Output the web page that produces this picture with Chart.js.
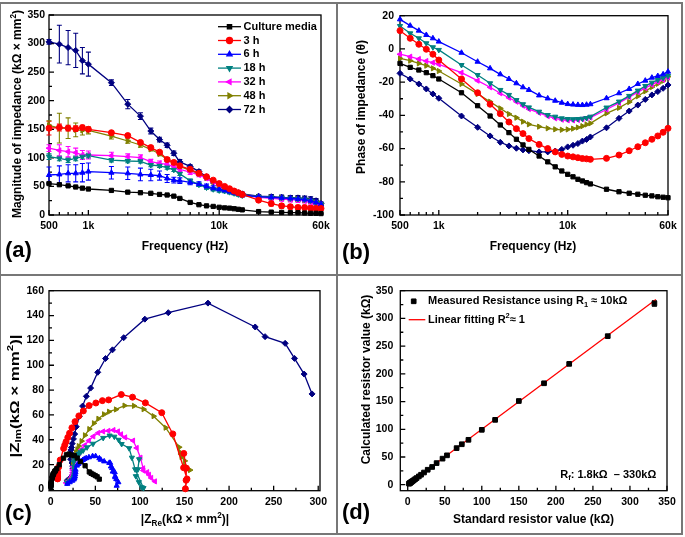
<!DOCTYPE html>
<html>
<head>
<meta charset="utf-8">
<script src="https://cdn.jsdelivr.net/npm/chart.js@4.4.1/dist/chart.umd.min.js"></script>
<style>
html,body{margin:0;padding:0;background:#fff;}
#fig{position:relative;width:685px;height:537px;overflow:hidden;background:#fff;}
#fig canvas{position:absolute;}
.ln{position:absolute;background:#777;}
</style>
</head>
<body>
<div id="fig">
<canvas id="ca" width="337" height="275" style="left:0;top:0"></canvas>
<canvas id="cb" width="348" height="275" style="left:337px;top:0"></canvas>
<canvas id="cc" width="337" height="262" style="left:0;top:275px"></canvas>
<canvas id="cd" width="348" height="262" style="left:337px;top:275px"></canvas>
<div class="ln" style="left:0;top:2px;width:683px;height:2px"></div>
<div class="ln" style="left:0;top:533px;width:683px;height:2px"></div>
<div class="ln" style="left:0;top:2px;width:1px;height:533px"></div>
<div class="ln" style="left:681px;top:2px;width:2px;height:533px"></div>
<div class="ln" style="left:336px;top:2px;width:2px;height:533px"></div>
<div class="ln" style="left:0;top:274px;width:683px;height:2px"></div>
</div>
<script>
/* ---------- data ---------- */
var freq = [500,600,700,800,900,1000,1500,2000,2500,3000,3500,4000,4500,5000,6000,7000,8000,9000,10000,11000,12000,13000,14000,15000,20000,25000,30000,35000,40000,45000,50000,55000,60000];

// (a) magnitude of impedance
var magCM  = [55,53,51,49,47,45.5,43,40,39,38,36,35,33,29,22,18,16,15,13.5,12.5,12,11,10,9,6,5,4.5,4,4,3.5,3,3,2.5];
var mag3h  = [152,153,152,151,153,150,144,139,127,118,110,97,92,86,80,73,67,61,55,50,46,42,39,36,26,20,16,14.5,13,13,12,11.5,11.5];
var mag6h  = [70,71,73,73,74,76,74,73,71,70,69,64,61,60,57,54,50,47,45,43,41,39,37,35,32,31,30,29,28,27,25,22,19];
var mag18h = [102,99,96,99,102,104,96,94.5,94,87.5,86,83,79,72,60,53,48,45,43,42,40,38,36,34,32,31,30,29,28,27,25,22,19];
var mag32h = [117,113,110.8,109,105,105,103.8,102,100.3,93.3,90.4,88.6,85,80,75,70,64,58,52,47,43,40,37,35,31,29,28,27,26,25,23,21,18];
var mag48h = [157,152,152,149,148,148,138,129.5,122.5,115,106.8,97.4,90.4,85,78,72,65,58,52,47,44,41,38,36,32,31,30,29,28,27,25,22,19];
var mag72h = [303,299,293,288,270,264,231.5,194,173,147,132,122,108,93,85,76,67,58,52,48,44,41,39,37,33,32,31,30,30,29,28,25,20];

var errCM  = [1,1,1,1,1,1,1,1,1,1,1,1,1,1,1,1,1,1,1,1,1,1,1,1,1,1,1,1,1,1,1,1,1];
var err3h  = [12,6,5,5,4,4,3,3,3,3,3,3,3,3,3,3,3,3,3,3,3,3,3,3,3,4,4,4,4,4,4,4,3];
var err6h  = [14,15,15,15,16,15,11,11,11,10,8,7,5,5,4,4,4,4,3,3,3,3,3,3,4,4,4,4,4,4,4,4,3];
var err18h = [5,4,4,4,4,4,3,3,3,3,3,3,3,3,3,3,3,3,3,3,3,3,3,3,3,4,4,4,4,4,4,4,3];
var err32h = [6,10,9,8,8,7,6,5,5,4,4,4,4,4,4,3,3,3,3,3,3,3,3,3,3,4,4,4,4,4,4,4,3];
var err48h = [8,26,18,12,8,6,5,4,4,3,3,3,3,3,3,3,3,3,3,3,3,3,3,3,3,4,4,4,4,4,4,4,3];
var err72h = [4,33,30,30,23,21,5,8,6,5,4,4,4,4,3,3,3,3,3,3,3,3,3,3,3,4,4,4,4,4,4,4,3];

// (b) phase of impedance
var phCM  = [-8.7,-11.1,-12.7,-14.3,-16.1,-18.1,-26.4,-34.2,-40.4,-45.8,-50.4,-54.4,-57.8,-60.5,-64.5,-68,-71,-73.5,-75.5,-77,-78.5,-79.5,-80.5,-81.3,-84.5,-86,-86.9,-87.5,-88.1,-88.5,-89,-89.3,-89.6];
var ph3h  = [11,6.4,2.8,-0.2,-3.2,-6.7,-18.1,-26.4,-33.3,-39,-44,-48,-51,-54,-57.5,-60,-62,-63.5,-64.5,-65,-65.5,-66,-66.2,-66.5,-65.9,-63.9,-61.3,-58.9,-56.5,-54.4,-52.4,-50.2,-47.8];
var ph6h  = [17.8,14,11,8.4,6.4,4.4,-2.3,-7.7,-11.7,-15.3,-18.1,-20.7,-23.1,-24.7,-28,-29.8,-31.2,-32.4,-33.2,-33.5,-33.7,-33.8,-33.6,-33.3,-29.7,-26.7,-24.1,-21.1,-19.1,-17.3,-16.3,-15.3,-13.7];
var ph18h = [13.8,9.4,6.4,3.4,1,-0.6,-9.7,-15.7,-20.7,-24.7,-27.7,-30.8,-33.3,-35.2,-37.8,-39.8,-40.8,-41.8,-42.2,-42.3,-42.2,-42,-41.6,-40.8,-35.3,-31.7,-28.3,-25.1,-22.3,-20.3,-18.7,-17.5,-16.3];
var ph32h = [-3.2,-4.7,-6.1,-7.3,-8.3,-9.3,-14.3,-19.1,-23.1,-26.7,-29.4,-31.8,-34.2,-36.2,-38.5,-40.5,-41.8,-42.6,-43,-43,-42.8,-42.3,-41.8,-41.3,-36.5,-32.5,-29,-26,-23.5,-21.5,-19.8,-18.5,-17.2];
var ph48h = [-5.7,-7.1,-8.7,-10.1,-11.7,-13.3,-21.1,-27.1,-31.8,-35.8,-39.2,-41.4,-43.8,-45.4,-46.8,-47.8,-48.4,-48.7,-48.5,-48,-47.3,-46.5,-45.5,-44.8,-38.8,-35.5,-32,-28.5,-25.5,-23,-21,-19.2,-16.7];
var ph72h = [-14.7,-18.1,-21.1,-24.1,-27.1,-29.7,-40.4,-47.2,-52.4,-56.2,-58.4,-59.8,-60.8,-61.3,-62,-62,-61.5,-60.5,-59,-58,-57,-55.5,-54.5,-53,-47.5,-41.8,-37.4,-33.8,-30.4,-27.7,-25.7,-23.7,-21.7];

// (c) Nyquist, |Z_Re| and |Z_Im|
var reCM  = [54.4,52.0,49.8,47.5,45.2,43.2,38.5,33.1,29.7,26.5,22.9,20.4,17.6,14.3,9.5,6.7,5.2,4.3,3.4,2.8,2.4,2.0,1.7,1.4,0.6,0.4,0.2,0.2,0.1,0.1,0.1,0,0];
var imCM  = [8.3,10.2,11.2,12.1,13.0,14.1,19.1,22.5,25.3,27.2,27.7,28.5,27.9,25.2,19.9,16.7,15.1,14.4,13.1,12.2,11.8,10.8,9.9,8.9,6.0,5.0,4.5,4.0,4.0,3.5,3.0,3.0,2.5];
var re3h  = [149.2,152.1,151.8,151.0,152.8,149.0,136.9,124.5,106.1,91.7,79.1,64.9,57.9,50.6,43.0,36.5,31.5,27.2,23.7,21.1,19.1,17.1,15.7,14.4,10.6,8.8,7.7,7.5,7.2,7.6,7.3,7.4,7.7];
var im3h  = [29.0,17.1,7.4,0.5,8.5,17.5,44.7,61.8,69.7,74.3,76.4,72.1,71.5,69.6,67.5,63.2,59.2,54.6,49.6,45.3,41.9,38.4,35.7,33.0,23.7,18.0,14.0,12.4,10.8,10.6,9.5,8.8,8.5];
var re6h  = [66.6,68.9,71.7,72.2,73.5,75.8,73.9,72.3,69.5,67.5,65.6,59.9,56.1,54.5,50.3,46.9,42.8,39.7,37.7,35.9,34.1,32.4,30.8,29.3,27.8,27.7,27.4,27.1,26.5,25.8,24.0,21.2,18.5];
var im6h  = [21.4,17.2,13.9,10.7,8.3,5.8,3.0,9.8,14.4,18.5,21.4,22.6,23.9,25.1,26.8,26.8,25.9,25.2,24.6,23.7,22.7,21.7,20.5,19.2,15.9,13.9,12.2,10.4,9.2,8.0,7.0,5.8,4.5];
var re18h = [99.1,97.7,95.4,98.8,102.0,104.0,94.6,91.0,87.9,79.5,76.1,71.3,66.0,58.8,47.4,40.7,36.3,33.5,31.9,31.1,29.6,28.2,26.9,25.7,26.1,26.4,26.4,26.3,25.9,25.3,23.7,21.0,18.2];
var im18h = [24.3,16.2,10.7,5.9,1.8,1.1,16.2,25.6,33.2,36.6,40.0,42.5,43.4,41.5,36.8,33.9,31.4,30.0,28.9,28.3,26.9,25.4,23.9,22.2,18.5,16.3,14.2,12.3,10.6,9.4,8.0,6.6,5.3];
var re32h = [116.8,112.6,110.2,108.1,103.9,103.6,100.6,96.4,92.3,83.4,78.8,75.3,70.3,64.6,58.7,53.2,47.7,42.7,38.0,34.4,31.5,29.6,27.6,26.3,24.9,24.5,24.5,24.3,23.8,23.3,21.6,19.9,17.2];
var im32h = [6.5,9.3,11.8,13.9,15.2,17.0,25.6,33.4,39.3,41.9,44.4,46.7,47.8,47.2,46.7,45.5,42.7,39.3,35.5,32.1,29.2,26.9,24.7,23.1,18.4,15.6,13.6,11.8,10.4,9.2,7.8,6.7,5.3];
var re48h = [156.2,150.8,150.3,146.7,144.9,144.0,128.8,115.3,104.1,93.3,82.7,73.1,65.3,59.7,53.4,48.4,43.2,38.3,34.5,31.4,29.8,28.2,26.6,25.5,24.9,25.2,25.4,25.5,25.3,24.9,23.3,20.8,18.2];
var im48h = [15.6,18.8,23.0,26.1,30.0,34.0,49.7,59.0,64.6,67.3,67.5,64.4,62.6,60.5,56.9,53.3,48.6,43.6,38.9,34.9,32.3,29.7,27.1,25.4,20.1,18.0,15.9,13.8,12.1,10.5,9.0,7.2,5.5];
var re72h = [293.1,284.2,273.4,262.9,240.4,229.3,176.3,131.8,105.5,81.8,69.2,61.4,52.7,44.7,39.9,35.7,32.0,28.6,26.8,25.4,24.0,23.2,22.6,22.3,22.3,23.9,24.6,24.9,25.9,25.7,25.2,22.9,18.6];
var im72h = [76.9,92.9,105.5,117.6,123.0,130.8,150.0,142.3,137.1,122.2,112.4,105.4,94.3,81.6,75.0,67.1,58.9,50.5,44.6,40.7,36.9,33.8,31.8,29.5,24.3,21.3,18.8,16.7,15.2,13.5,12.1,10.1,7.4];

// (d) resistor calibration
var stdR  = [1.8,2.2,2.7,3.3,3.9,4.7,5.6,6.8,8.2,10,12,15,18,22,27,33,39,47,53,66,73,82,100,118,150,184,218,270,333];
var measR = [1.9,2.3,2.7,3.3,3.9,4.8,5.6,6.8,8.1,10,12,15,18,22,27,32,39,47,53,66,73,81,99,117,151,183,218,268,327];
var errR  = [1,1,1,1,1,1,1,1,1,1,1,1,1,1,1,1,1,1,1,1,1,1,1,1,1,1,2,2,5];
var fitX  = [0,335];
var fitY  = [0.5,334];

// tick values and labels
var freqTicks  = [500,1000,10000,60000];
var freqLabels = ['500','1k','10k','60k'];
var freqMinor  = [600,700,800,900,2000,3000,4000,5000,6000,7000,8000,9000,20000,30000,40000,50000];
var magTicks   = [0,50,100,150,200,250,300,350];
var magMinor   = [25,75,125,175,225,275,325];
var phTicks    = [-100,-80,-60,-40,-20,0,20];
var phMinor    = [-90,-70,-50,-30,-10,10];
var reTicks    = [0,50,100,150,200,250,300];
var reMinor    = [25,75,125,175,225,275];
var imTicks    = [0,20,40,60,80,100,120,140,160];
var imMinor    = [10,30,50,70,90,110,130,150];
var resTicks   = [0,50,100,150,200,250,300,350];
var resMinor   = [25,75,125,175,225,275,325];

var seriesNames  = ['Culture media','3 h','6 h','18 h','32 h','48 h','72 h'];
var seriesColors = ['#000000','#ff0000','#0000ff','#008080','#ff00ff','#808000','#000080'];
var seriesMarks  = ['rect','circle','triangle','triangle','triangle','triangle','rectRot'];
var markTurn     = [0,0,0,180,270,90,0];

/* ---------- helpers ---------- */
var FONT = '"Liberation Sans", Arial, sans-serif';
Chart.defaults.font.family = FONT;
Chart.defaults.color = '#000';

function pts(xs, ys){
  return xs.map(function(v, i){ return {x: v, y: ys[i]}; });
}

function series(i, xs, ys, errs){
  return {
    label: seriesNames[i], data: pts(xs, ys), errors: errs,
    borderColor: seriesColors[i], backgroundColor: seriesColors[i],
    pointBackgroundColor: seriesColors[i], pointBorderColor: seriesColors[i],
    borderWidth: 1.3, pointStyle: seriesMarks[i], pointRotation: markTurn[i],
    pointRadius: 3, pointBorderWidth: 1, tension: 0, clip: false
  };
}

function axis(o){
  return {
    type: o.type || 'linear', min: o.min, max: o.max,
    grid: {display: false, drawTicks: false, tickLength: 0}, border: {display: false},
    ticks: {
      autoSkip: false, maxRotation: 0, minRotation: 0, padding: o.pad,
      font: {size: 10.5, weight: 'bold'}, color: '#000',
      callback: function(v, i){ return o.labels ? o.labels[i] : v; }
    },
    afterBuildTicks: function(s){
      s.ticks = o.ticks.map(function(v){ return {value: v}; });
    },
    afterFit: function(s){
      if (s.isHorizontal()) { s.height = o.size; s.paddingLeft = 0; s.paddingRight = 0; }
      else { s.width = o.size; s.paddingTop = 0; s.paddingBottom = 0; }
    }
  };
}

// text with sub / superscripts; parts are strings or [text, 'sub'|'sup']
function rich(ctx, parts, x, y, size, align, rot, stretch){
  ctx.save();
  ctx.translate(x, y);
  if (rot) ctx.rotate(rot);
  if (stretch) ctx.scale(stretch, 1);
  var segs = parts.map(function(p){
    return typeof p === 'string' ? {t: p, m: ''} : {t: p[0], m: p[1]};
  });
  var w = 0;
  segs.forEach(function(s){
    s.fs = s.m ? size * 0.68 : size;
    ctx.font = 'bold ' + s.fs + 'px ' + FONT;
    s.w = ctx.measureText(s.t).width;
    w += s.w;
  });
  var cx = align === 'left' ? 0 : -w / 2;
  ctx.textAlign = 'left';
  ctx.textBaseline = 'middle';
  ctx.fillStyle = '#000';
  segs.forEach(function(s){
    ctx.font = 'bold ' + s.fs + 'px ' + FONT;
    var dy = s.m === 'sub' ? size * 0.3 : (s.m === 'sup' ? -size * 0.33 : 0);
    ctx.fillText(s.t, cx, dy);
    cx += s.w;
  });
  ctx.restore();
}

function marker(ctx, i, x, y){
  ctx.fillStyle = seriesColors[i];
  ctx.strokeStyle = seriesColors[i];
  Chart.helpers.drawPoint(ctx, {pointStyle: seriesMarks[i], rotation: markTurn[i], radius: 3, borderWidth: 1}, x, y);
}

// frame, inward ticks, error bars, titles and legend
function deco(cfg){
  return {
    id: 'deco',
    beforeDatasetsDraw: function(chart){
      var ctx = chart.ctx, a = chart.chartArea, sx = chart.scales.x, sy = chart.scales.y;
      ctx.save();
      ctx.strokeStyle = '#000';
      ctx.lineWidth = 1.3;
      ctx.strokeRect(a.left, a.top, a.right - a.left, a.bottom - a.top);
      ctx.beginPath();
      function tx(list, len){
        list.forEach(function(v){ var p = sx.getPixelForValue(v); ctx.moveTo(p, a.bottom); ctx.lineTo(p, a.bottom - len); });
      }
      function ty(list, len){
        list.forEach(function(v){ var p = sy.getPixelForValue(v); ctx.moveTo(a.left, p); ctx.lineTo(a.left + len, p); });
      }
      tx(cfg.xMajor, 5); tx(cfg.xMinor, 3); ty(cfg.yMajor, 5); ty(cfg.yMinor, 3);
      ctx.stroke();

      chart.data.datasets.forEach(function(ds){
        if (!ds.errors) return;
        ctx.strokeStyle = ds.borderColor;
        ctx.lineWidth = 1.1;
        ctx.beginPath();
        ds.data.forEach(function(p, i){
          var e = ds.errors[i];
          if (!e) return;
          var px = sx.getPixelForValue(p.x);
          var t = sy.getPixelForValue(p.y + e), b = sy.getPixelForValue(p.y - e);
          ctx.moveTo(px, t); ctx.lineTo(px, b);
          ctx.moveTo(px - 2.5, t); ctx.lineTo(px + 2.5, t);
          ctx.moveTo(px - 2.5, b); ctx.lineTo(px + 2.5, b);
        });
        ctx.stroke();
      });
      ctx.restore();
    },
    afterDraw: function(chart){
      var ctx = chart.ctx;
      cfg.texts.forEach(function(t){
        rich(ctx, t.parts, t.x, t.y, t.size || 12, t.align, t.rot, t.stretch);
      });
      if (cfg.legend) cfg.legend(ctx);
    }
  };
}

/* ---------- (a) magnitude ---------- */
var magSets = [magCM, mag3h, mag6h, mag18h, mag32h, mag48h, mag72h];
var magErrs = [errCM, err3h, err6h, err18h, err32h, err48h, err72h];
new Chart(document.getElementById('ca'), {
  type: 'line',
  data: {datasets: magSets.map(function(m, i){ return series(i, freq, m, magErrs[i]); })},
  options: {
    responsive: false, animation: false, devicePixelRatio: 1,
    layout: {padding: {left: 0, top: 15, right: 16, bottom: 0}},
    plugins: {legend: {display: false}, tooltip: {enabled: false}},
    scales: {
      x: axis({type: 'logarithmic', min: 500, max: 60000, ticks: freqTicks, labels: freqLabels, size: 60, pad: 5}),
      y: axis({min: 0, max: 350, ticks: magTicks, size: 49, pad: 4})
    }
  },
  plugins: [deco({
    xMajor: freqTicks, xMinor: freqMinor, yMajor: magTicks, yMinor: magMinor,
    texts: [
      {parts: ['Magnitude of impedance (kΩ × mm', ['2', 'sup'], ')'], x: 18, y: 114, rot: -Math.PI / 2},
      {parts: ['Frequency (Hz)'], x: 185, y: 246.5},
      {parts: ['(a)'], x: 5, y: 250.5, size: 22, align: 'left'}
    ],
    legend: function(ctx){
      seriesNames.forEach(function(n, i){
        var y = 26.7 + i * 13.8;
        ctx.save();
        ctx.strokeStyle = seriesColors[i];
        ctx.lineWidth = 1.3;
        ctx.beginPath(); ctx.moveTo(218, y); ctx.lineTo(241, y); ctx.stroke();
        marker(ctx, i, 229.5, y);
        ctx.restore();
        rich(ctx, [n], 243.5, y, 11, 'left');
      });
    }
  })]
});

/* ---------- (b) phase ---------- */
var phSets = [phCM, ph3h, ph6h, ph18h, ph32h, ph48h, ph72h];
new Chart(document.getElementById('cb'), {
  type: 'line',
  data: {datasets: phSets.map(function(p, i){ return series(i, freq, p, null); })},
  options: {
    responsive: false, animation: false, devicePixelRatio: 1,
    layout: {padding: {left: 0, top: 15.7, right: 17, bottom: 0}},
    plugins: {legend: {display: false}, tooltip: {enabled: false}},
    scales: {
      x: axis({type: 'logarithmic', min: 500, max: 60000, ticks: freqTicks, labels: freqLabels, size: 60, pad: 5}),
      y: axis({min: -100, max: 20, ticks: phTicks, size: 63, pad: 6})
    }
  },
  plugins: [deco({
    xMajor: freqTicks, xMinor: freqMinor, yMajor: phTicks, yMinor: phMinor,
    texts: [
      {parts: ['Phase of impedance (θ)'], x: 25, y: 107, rot: -Math.PI / 2},
      {parts: ['Frequency (Hz)'], x: 196, y: 246.5},
      {parts: ['(b)'], x: 5, y: 253, size: 22, align: 'left'}
    ]
  })]
});

/* ---------- (c) Nyquist ---------- */
var reSets = [reCM, re3h, re6h, re18h, re32h, re48h, re72h];
var imSets = [imCM, im3h, im6h, im18h, im32h, im48h, im72h];
new Chart(document.getElementById('cc'), {
  type: 'line',
  data: {datasets: reSets.map(function(r, i){ return series(i, r, imSets[i], null); })},
  options: {
    responsive: false, animation: false, devicePixelRatio: 1,
    layout: {padding: {left: 0, top: 15.7, right: 17, bottom: 0}},
    plugins: {legend: {display: false}, tooltip: {enabled: false}},
    scales: {
      x: axis({min: -2, max: 302, ticks: reTicks, size: 46.3, pad: 5}),
      y: axis({min: -1, max: 160, ticks: imTicks, size: 49, pad: 5})
    }
  },
  plugins: [deco({
    xMajor: reTicks, xMinor: reMinor, yMajor: imTicks, yMinor: imMinor,
    texts: [
      {parts: ['|Z', ['Im', 'sub'], '(kΩ × mm', ['2', 'sup'], ')|'], x: 15, y: 121, rot: -Math.PI / 2, size: 13, stretch: 1.3},
      {parts: ['|Z', ['Re', 'sub'], '(kΩ × mm', ['2', 'sup'], ')|'], x: 185, y: 245},
      {parts: ['(c)'], x: 5, y: 238.5, size: 22, align: 'left'}
    ]
  })]
});

/* ---------- (d) resistor calibration ---------- */
new Chart(document.getElementById('cd'), {
  type: 'line',
  data: {datasets: [
    {label: 'Measured', data: pts(stdR, measR), errors: errR, showLine: false,
     borderColor: '#000', backgroundColor: '#000', pointStyle: 'rect', pointRadius: 3.3,
     pointBorderWidth: 1, clip: false},
    {label: 'Linear fitting', data: pts(fitX, fitY), borderColor: '#ff0000',
     borderWidth: 1.3, pointRadius: 0, clip: false}
  ]},
  options: {
    responsive: false, animation: false, devicePixelRatio: 1,
    layout: {padding: {left: 0, top: 15.7, right: 18, bottom: 0}},
    plugins: {legend: {display: false}, tooltip: {enabled: false}},
    scales: {
      x: axis({min: -10, max: 350, ticks: resTicks, size: 46.3, pad: 5}),
      y: axis({min: -10.8, max: 350, ticks: resTicks, size: 63.3, pad: 7})
    }
  },
  plugins: [deco({
    xMajor: resTicks, xMinor: resMinor, yMajor: resTicks, yMinor: resMinor,
    texts: [
      {parts: ['Calculated resistor value (kΩ)'], x: 30, y: 104.5, rot: -Math.PI / 2},
      {parts: ['Standard resistor value (kΩ)'], x: 196.5, y: 245},
      {parts: ['(d)'], x: 5, y: 238, size: 22, align: 'left'},
      {parts: ['R', ['f', 'sub'], ': 1.8kΩ  – 330kΩ'], x: 223.3, y: 199.7, size: 11, align: 'left'}
    ],
    legend: function(ctx){
      ctx.save();
      ctx.fillStyle = '#000';
      ctx.strokeStyle = '#000';
      Chart.helpers.drawPoint(ctx, {pointStyle: 'rect', radius: 3.3, borderWidth: 1}, 76.7, 26.3);
      ctx.strokeStyle = '#ff0000';
      ctx.lineWidth = 1.3;
      ctx.beginPath(); ctx.moveTo(71.7, 44.7); ctx.lineTo(88.3, 44.7); ctx.stroke();
      ctx.restore();
      rich(ctx, ['Measured Resistance using R', ['1', 'sub'], ' ≈ 10kΩ'], 91, 26.3, 11, 'left');
      rich(ctx, ['Linear fitting R', ['2', 'sup'], '≈ 1'], 91, 44.7, 11, 'left');
    }
  })]
});
</script>
</body>
</html>
